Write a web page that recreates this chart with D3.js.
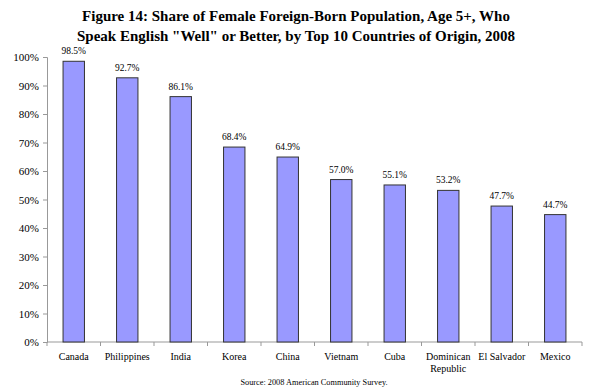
<!DOCTYPE html>
<html><head><meta charset="utf-8">
<script src="https://cdn.jsdelivr.net/npm/d3@7"></script>
<style>body{margin:0;background:#fff}svg{display:block}svg text{font-family:"Liberation Serif","Times New Roman",serif !important}</style>
</head><body>
<svg id="c" width="590" height="389"></svg>
<script>
const categories = ["Canada","Philippines","India","Korea","China","Vietnam","Cuba","Dominican Republic","El Salvador","Mexico"];
const values = [98.5,92.7,86.1,68.4,64.9,57.0,55.1,53.2,47.7,44.7];
const yTicks = [0,10,20,30,40,50,60,70,80,90,100];
const titleLines = ["Figure 14: Share of Female Foreign-Born Population, Age 5+, Who","Speak English \"Well\" or Better, by Top 10 Countries of Origin, 2008"];
const source = "Source: 2008 American Community Survey.";

const svg = d3.select("#c");
const SERIF = "Liberation Serif, Times New Roman, serif";
const m = {l:47};
const x = d3.scaleBand().domain(categories).range([m.l, 582]).paddingInner(0.6).paddingOuter(0.3);
const xb = d3.scaleBand().domain(categories).range([m.l, 582]);
const y = d3.scaleLinear().domain([0,100]).range([342, 57]);

svg.selectAll("text.title").data(titleLines).join("text")
  .attr("x", 296).attr("y",(d,i)=>21+i*20).attr("text-anchor","middle")
  .attr("font-weight","bold").attr("font-size","15px").style("font-family",SERIF).text(d=>d);

const ya = svg.append("g").attr("transform",`translate(${m.l},0)`)
  .call(d3.axisLeft(y).tickValues(yTicks).tickFormat(d=>d+"%").tickSize(4).tickPadding(4));
ya.attr("font-family",null);
ya.selectAll("path,line").attr("stroke","#999");
ya.selectAll("text").attr("font-size","11px").style("font-family",SERIF).attr("fill","#000");

const xa = svg.append("g").attr("transform",`translate(0,342)`);
xa.append("line").attr("x1",m.l).attr("x2",582).attr("stroke","#999");
xa.selectAll("line.t").data(categories.concat(["_end"])).join("line")
  .attr("x1",(d,i)=>m.l+i*xb.bandwidth()).attr("x2",(d,i)=>m.l+i*xb.bandwidth())
  .attr("y1",0).attr("y2",4).attr("stroke","#999");

svg.selectAll("rect.bar").data(values).join("rect")
  .attr("x",(d,i)=>x(categories[i])).attr("width",x.bandwidth())
  .attr("y",d=>y(d)).attr("height",d=>342-y(d))
  .attr("fill","#9999FF").attr("stroke","#333").attr("stroke-width",1);

svg.selectAll("text.val").data(values).join("text")
  .attr("x",(d,i)=>x(categories[i])+x.bandwidth()/2).attr("y",d=>y(d)-7)
  .attr("text-anchor","middle").attr("font-size","9.5px").style("font-family",SERIF).text(d=>d.toFixed(1)+"%");

svg.selectAll("text.cat").data(categories).join("text")
  .attr("x",d=>xb(d)+xb.bandwidth()/2).attr("y",360)
  .attr("text-anchor","middle").attr("font-size","10px").style("font-family",SERIF)
  .each(function(d){
    const t=d3.select(this);
    const parts = d==="Dominican Republic"?["Dominican","Republic"]:[d];
    parts.forEach((p,i)=>t.append("tspan").attr("x",xb(d)+xb.bandwidth()/2).attr("dy",i?12:0).text(p));
  });

svg.append("text").attr("x",314).attr("y",385).attr("text-anchor","middle").attr("font-size","8.3px").style("font-family",SERIF).text(source);
</script>
</body></html>
